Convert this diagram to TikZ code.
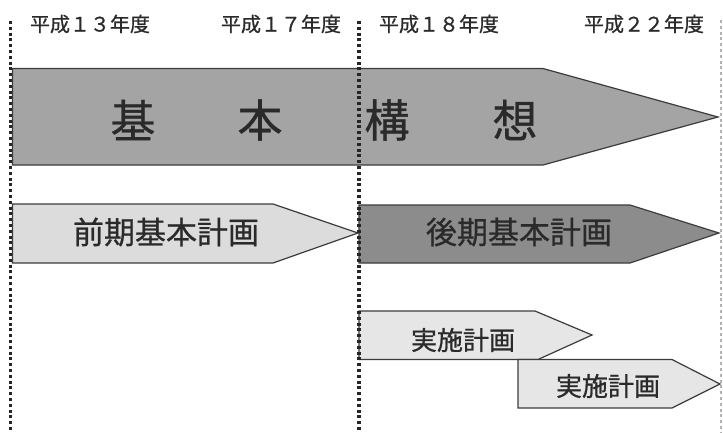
\documentclass[tikz,border=0pt]{standalone}
\usepackage{fontspec}
\newfontfamily\cjk{Noto Sans CJK JP}[UprightFeatures={FakeBold=0.8}]
\definecolor{midgray}{HTML}{A4A4A4}
\definecolor{darkfill}{HTML}{8C8C8C}
\definecolor{lightfill}{HTML}{DCDCDC}
\definecolor{edge}{HTML}{3C3C3C}
\definecolor{ink}{HTML}{2A2A2A}
\tikzset{
  arrowshape/.style={draw=edge, line width=1.2pt, line join=miter},
  yearlbl/.style={font=\cjk\fontsize{20}{20}\selectfont, text=ink, inner sep=0pt},
  bigtxt/.style={font=\cjk\fontsize{45}{45}\selectfont, text=ink, inner sep=0pt},
  plantxt/.style={font=\cjk\fontsize{31}{31}\selectfont, text=ink, inner sep=0pt},
  smalltxt/.style={font=\cjk\fontsize{26}{26}\selectfont, text=ink, inner sep=0pt},
  dotline/.style={line width=3.5pt, dash pattern=on 3pt off 2.8pt, draw=black!85},
  lightdot/.style={line width=2pt, dash pattern=on 3pt off 2.8pt, draw=black!30}
}
\begin{document}
\begin{tikzpicture}[x=1pt,y=-1pt]
\useasboundingbox[fill=white] (0,0) rectangle (723,432);
% arrows
\path[arrowshape, fill=midgray] (12.5,68.5) -- (543,68.5) -- (718,117) -- (543,165) -- (12.5,165) -- cycle;
\path[arrowshape, fill=lightfill] (12.5,204) -- (273,204) -- (358,233) -- (273,263) -- (12.5,263) -- cycle;
\path[arrowshape, fill=darkfill] (359,205) -- (630,205) -- (719,233) -- (630,263) -- (359,263) -- cycle;
\path[arrowshape, fill=lightfill!70!white] (359,311) -- (535,311) -- (592,335) -- (538,359.5) -- (359,359.5) -- cycle;
\path[arrowshape, fill=lightfill!70!white] (518,359.5) -- (672,359.5) -- (720,384) -- (672,408) -- (518,408) -- cycle;
% texts
\node[yearlbl] (y13) at (90,24) {平成１３年度};
\node[yearlbl] (y17) at (281,24) {平成１７年度};
\node[yearlbl] (y18) at (439,24) {平成１８年度};
\node[yearlbl] (y22) at (644,24) {平成２２年度};
\node[bigtxt] (k1) at (133,120) {基};
\node[bigtxt] (k2) at (260,120) {本};
\node[bigtxt] (k3) at (387,120) {構};
\node[bigtxt] (k4) at (515,120) {想};
\node[plantxt] (zenki) at (166,232) {前期基本計画};
\node[plantxt] (kouki) at (519,232) {後期基本計画};
\node[smalltxt] (jisshi1) at (463,340) {実施計画};
\node[smalltxt] (jisshi2) at (608,386) {実施計画};
% dotted lines
\coordinate (l0) at (10.5,21);
\coordinate (l1) at (10.5,432);
\coordinate (m0) at (359,21);
\coordinate (m1) at (359,432);
\coordinate (r0) at (721,20);
\coordinate (r1) at (721,432);
\draw[dotline] (l0) -- (l1);
\draw[dotline] (m0) -- (m1);
\draw[lightdot] (r0) -- (r1);
\end{tikzpicture}
\end{document}
